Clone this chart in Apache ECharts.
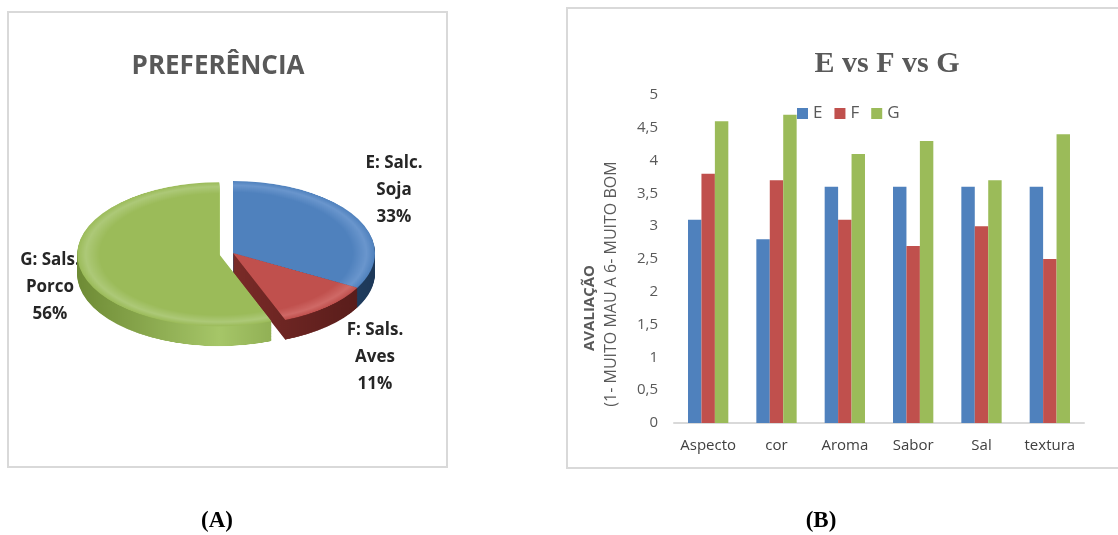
<!DOCTYPE html>
<html>
<head>
<meta charset="utf-8">
<script src="https://cdn.jsdelivr.net/npm/echarts@6/dist/echarts.min.js"></script>
<style>
  html, body { margin: 0; padding: 0; background: #fff; }
  #wrap { position: relative; width: 1118px; height: 535px; overflow: hidden; }
  #main { position: absolute; left: 0; top: 0; width: 1118px; height: 535px; }
  /* pie drawn round, then flattened to look tilted */
  #pie { position: absolute; left: 33px; top: 53px; width: 400px; height: 400px;
         transform: scaleY(0.507); transform-origin: 200px 200px; }
</style>
</head>
<body>
<div id="wrap">
  <div id="main"></div>
  <div id="pie"></div>
</div>
<script>
// dados
var categorias = ['Aspecto', 'cor', 'Aroma', 'Sabor', 'Sal', 'textura'];
var serieE = [3.1, 2.8, 3.6, 3.6, 3.6, 3.6];
var serieF = [3.8, 3.7, 3.1, 2.7, 3.0, 2.5];
var serieG = [4.6, 4.7, 4.1, 4.3, 3.7, 4.4];
var yTicks = [0, 0.5, 1, 1.5, 2, 2.5, 3, 3.5, 4, 4.5, 5];

var pieNomes = ['E: Salc.\nSoja', 'F: Sals.\nAves', 'G: Sals.\nPorco'];
var pieValores = [33, 11, 56];

var corTopo = ['#4F81BD', '#C0504D', '#9BBB59'];
var corClara = ['#6a96cd', '#cf6966', '#adc978'];
var corLado = [['#1d3858', '#2e5682'], ['#551b19', '#7a2b28'], ['#6e8b35', '#a6c668']];
// posicao dos rotulos da pizza (centro x, topo y)
var pieRotulos = [[394, 150], [375, 317], [50, 247]];

var fonte = '"Open Sans", "Noto Sans", sans-serif';

var myChart = echarts.init(document.getElementById('main'));
var pieChart = echarts.init(document.getElementById('pie'));

var soma = pieValores.reduce(function (a, b) { return a + b; }, 0);
var graficos = [
    { type: 'rect', shape: { x: 8, y: 12, width: 439, height: 455 },
      style: { fill: 'none', stroke: '#d9d9d9', lineWidth: 2 } },
    { type: 'rect', shape: { x: 567, y: 8, width: 600, height: 460 },
      style: { fill: 'none', stroke: '#d9d9d9', lineWidth: 2 } },
    { type: 'text', x: 218, y: 67, style: { text: 'PREFERÊNCIA', font: 'bold 26px ' + fonte,
      fill: '#595959', textAlign: 'center', textVerticalAlign: 'middle' } },
    { type: 'text', x: 590, y: 308, rotation: Math.PI / 2,
      style: { text: 'AVALIAÇÃO', font: 'bold 15px ' + fonte, fill: '#595959',
      textAlign: 'center', textVerticalAlign: 'middle' } },
    { type: 'text', x: 611, y: 284, rotation: Math.PI / 2,
      style: { text: '(1- MUITO MAU A 6- MUITO BOM', font: '16px ' + fonte, fill: '#595959',
      textAlign: 'center', textVerticalAlign: 'middle' } },
    { type: 'text', x: 217, y: 521, style: { text: '(A)', font: 'bold 23px "Liberation Serif", serif',
      fill: '#000', textAlign: 'center', textVerticalAlign: 'middle' } },
    { type: 'text', x: 821, y: 521, style: { text: '(B)', font: 'bold 23px "Liberation Serif", serif',
      fill: '#000', textAlign: 'center', textVerticalAlign: 'middle' } }
];
pieNomes.forEach(function (n, i) {
    graficos.push({
        type: 'text', x: pieRotulos[i][0], y: pieRotulos[i][1],
        style: {
            text: n + '\n' + Math.round(pieValores[i] / soma * 100) + '%',
            font: 'bold 17px ' + fonte, fill: '#262626',
            textAlign: 'center', textVerticalAlign: 'top', lineHeight: 27
        }
    });
});

option = {
    backgroundColor: '#fff',
    animation: false,
    title: {
        text: 'E vs F vs G',
        left: 882,
        top: 44,
        textAlign: 'center',
        textStyle: { fontFamily: '"Liberation Serif", serif', fontSize: 30, fontWeight: 'bold', color: '#595959' }
    },
    legend: {
        left: 792,
        top: 100,
        itemWidth: 11,
        itemHeight: 11,
        itemGap: 12,
        icon: 'rect',
        textStyle: { fontFamily: fonte, fontSize: 17, color: '#595959' },
        data: ['E', 'F', 'G']
    },
    grid: { left: 674, right: 34, top: 95, bottom: 112 },
    xAxis: {
        type: 'category',
        data: categorias,
        axisLine: { lineStyle: { color: '#d9d9d9', width: 2 } },
        axisTick: { show: false },
        axisLabel: { interval: 0, fontFamily: fonte, fontSize: 15, color: '#404040', margin: 15 }
    },
    yAxis: {
        type: 'value',
        min: yTicks[0],
        max: yTicks[yTicks.length - 1],
        interval: 0.5,
        splitLine: { show: false },
        axisLine: { show: false },
        axisTick: { show: false },
        axisLabel: {
            fontFamily: fonte, fontSize: 15, color: '#595959', margin: 16,
            formatter: function (v) { return String(v).replace('.', ','); }
        }
    },
    series: [
        { name: 'E', type: 'bar', data: serieE, itemStyle: { color: corTopo[0] }, barGap: '0%', barCategoryGap: '41%' },
        { name: 'F', type: 'bar', data: serieF, itemStyle: { color: corTopo[1] } },
        { name: 'G', type: 'bar', data: serieG, itemStyle: { color: corTopo[2] } }
    ],
    graphic: graficos
};
myChart.setOption(option);

// pizza "3D": varias copias escuras deslocadas para baixo + topo
var raio = 142, profundidade = 39, passo = 1.5;
function dadosPizza(lado) {
    return pieValores.map(function (v, i) {
        var cor;
        if (lado) {
            cor = { type: 'linear', x: 200 - raio, y: 0, x2: 200 + raio, y2: 0, global: true,
                colorStops: [{ offset: 0, color: corLado[i][0] }, { offset: 0.5, color: corLado[i][1] },
                             { offset: 1, color: corLado[i][0] }] };
        } else {
            cor = { type: 'radial', x: 200, y: 200, r: raio, global: true,
                colorStops: [{ offset: 0, color: corTopo[i] }, { offset: 0.84, color: corTopo[i] },
                             { offset: 0.94, color: corClara[i] }, { offset: 1, color: corTopo[i] }] };
        }
        return { value: v, name: pieNomes[i], selected: i === 2, itemStyle: { color: cor } };
    });
}
var seriesPizza = [];
for (var k = profundidade; k > 0; k -= passo) {
    seriesPizza.push({
        type: 'pie', center: [200, 200 + k], radius: raio, silent: true,
        selectedMode: 'multiple', selectedOffset: 14, startAngle: 90, clockwise: true,
        label: { show: false }, labelLine: { show: false }, emphasis: { disabled: true },
        data: dadosPizza(true)
    });
}
seriesPizza.push({
    type: 'pie', center: [200, 200], radius: raio, silent: true,
    selectedMode: 'multiple', selectedOffset: 14, startAngle: 90, clockwise: true,
    label: { show: false }, labelLine: { show: false }, emphasis: { disabled: true },
    data: dadosPizza(false)
});
pieChart.setOption({ animation: false, series: seriesPizza });
</script>
</body>
</html>
